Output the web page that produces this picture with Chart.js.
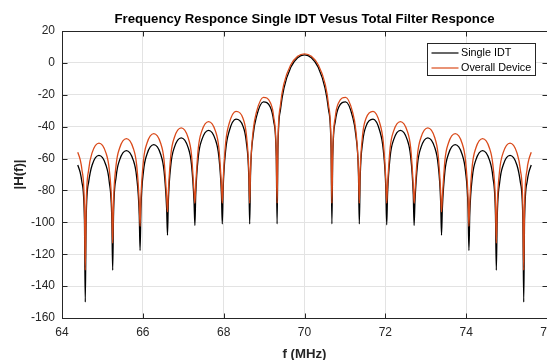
<!DOCTYPE html>
<html>
<head>
<meta charset="utf-8">
<script src="https://cdn.jsdelivr.net/npm/chart.js@4.4.1/dist/chart.umd.min.js"></script>
<style>
html, body { margin: 0; padding: 0; overflow: hidden; background: #ffffff; }
#wrap { position: absolute; left: 0; top: 0; width: 570px; height: 360px; }
</style>
</head>
<body>
<div id="wrap"><canvas id="c" width="570" height="360"></canvas></div>
<script>
// ---- Data ----
const titleText = 'Frequency Responce Single IDT Vesus Total Filter Responce';
const xTitle = 'f (MHz)';
const yTitle = '|H(f)|';
const seriesNames = ['Single IDT', 'Overall Device'];

const xTicks = [64, 66, 68, 70, 72, 74, 76];
const yTicks = [-160, -140, -120, -100, -80, -60, -40, -20, 0, 20];

// frequency (MHz)
const freq = [
  64.39, 64.45, 64.49, 64.555,
  64.576, 64.597, 64.661, 64.746, 64.915, 65.085, 65.169, 65.233,
  65.254, 65.275, 65.339, 65.424, 65.593, 65.763, 65.847, 65.911,
  65.932, 65.953, 66.017, 66.102, 66.271, 66.441, 66.525, 66.589,
  66.610, 66.631, 66.695, 66.780, 66.949, 67.119, 67.203, 67.267,
  67.288, 67.309, 67.373, 67.458, 67.627, 67.797, 67.881, 67.945,
  67.966, 67.987, 68.051, 68.136, 68.305, 68.475, 68.559, 68.623,
  68.644, 68.665, 68.729, 68.814, 68.983, 69.153, 69.237, 69.301,
  69.322, 69.343, 69.407, 69.492, 69.661, 69.830, 70.000, 70.170, 70.339, 70.508, 70.593, 70.657,
  70.678, 70.699, 70.763, 70.848, 71.017, 71.187, 71.271, 71.335,
  71.356, 71.377, 71.441, 71.526, 71.695, 71.865, 71.949, 72.013,
  72.034, 72.055, 72.119, 72.204, 72.373, 72.543, 72.627, 72.691,
  72.712, 72.733, 72.797, 72.882, 73.051, 73.221, 73.305, 73.369,
  73.390, 73.411, 73.475, 73.560, 73.729, 73.899, 73.983, 74.047,
  74.068, 74.089, 74.153, 74.238, 74.407, 74.577, 74.661, 74.725,
  74.746, 74.767, 74.831, 74.916, 75.085, 75.255, 75.339, 75.403,
  75.424, 75.445, 75.509, 75.550, 75.610
];

// Single IDT |H(f)| in dB
const singleIDT = [
  -64, -68.7, -74.4, -98,
  -150, -98, -74.5, -64, -58, -64, -74.5, -98,
  -130, -95, -71.5, -61, -55, -61, -71.5, -95,
  -117.6, -91.3, -67.8, -57.3, -51.3, -57.3, -67.8, -91.3,
  -108, -87, -63.5, -53, -47, -53, -63.5, -87,
  -102, -82.3, -58.8, -48.3, -42.3, -48.3, -58.8, -82.3,
  -101, -78.9, -54.5, -42.9, -35.3, -39.5, -49.3, -72.3,
  -101, -69.5, -45.5, -33.5, -24.5, -27.7, -36.5, -58.5,
  -101, -53, -29, -15.8, -2.8, 3.2, 5, 3.2, -2.8, -15.8, -29, -53,
  -101, -58.5, -36.5, -27.7, -24.5, -33.5, -45.5, -69.5,
  -101, -72.3, -49.3, -39.5, -35.3, -42.9, -54.5, -78.9,
  -101.5, -82.3, -58.8, -48.3, -42.3, -48.3, -58.8, -82.3,
  -102, -87, -63.5, -53, -47, -53, -63.5, -87,
  -108, -91.3, -67.8, -57.3, -51.3, -57.3, -67.8, -91.3,
  -117.6, -95, -71.5, -61, -55, -61, -71.5, -95,
  -130, -98, -74.5, -64, -58, -64, -74.5, -98,
  -150, -98, -74.4, -68.7, -64
];

// Overall device |H(f)| in dB
const overallDevice = [
  -56, -60.7, -66.4, -90,
  -130, -90.3, -66.8, -56.3, -50.3, -56.3, -66.8, -90.3,
  -113, -87.5, -64, -53.5, -47.5, -53.5, -64, -87.5,
  -102.5, -84.4, -60.9, -50.4, -44.4, -50.4, -60.9, -84.4,
  -93.5, -80.8, -57.3, -46.8, -40.8, -46.8, -57.3, -80.8,
  -88, -76.8, -53.3, -42.8, -36.8, -42.8, -53.3, -76.8,
  -88, -74, -49.6, -38, -30.4, -34.6, -44.4, -67.4,
  -88, -66.6, -42.6, -30.6, -21.6, -24.8, -33.6, -55.6,
  -88, -50, -26, -13, -1.2, 4.2, 5.7, 4.2, -1.2, -13, -26, -50,
  -88, -55.6, -33.6, -24.8, -21.6, -30.6, -42.6, -66.6,
  -88, -67.4, -44.4, -34.6, -30.4, -38, -49.6, -74,
  -88, -76.8, -53.3, -42.8, -36.8, -42.8, -53.3, -76.8,
  -88, -80.8, -57.3, -46.8, -40.8, -46.8, -57.3, -80.8,
  -93.5, -84.4, -60.9, -50.4, -44.4, -50.4, -60.9, -84.4,
  -102.5, -87.5, -64, -53.5, -47.5, -53.5, -64, -87.5,
  -113, -90.3, -66.8, -56.3, -50.3, -56.3, -66.8, -90.3,
  -130, -90, -66.4, -60.7, -56
];

// ---- Styling ----
const FONT = "'Liberation Sans', Arial, Helvetica, sans-serif";
const AXIS_COLOR = '#262626';
const GRID_COLOR = '#e3e3e3';
const COLORS = ['#000000', '#DA4A1A'];

function toXY(xs, ys) { return xs.map((x, i) => ({ x: x, y: ys[i] })); }

// Box, inward ticks and in-plot legend (MATLAB look)
const framePlugin = {
  id: 'matlabFrame',
  afterDatasetsDraw(chart) {
    const { ctx, chartArea: a, scales } = chart;
    ctx.save();
    ctx.strokeStyle = AXIS_COLOR;
    ctx.lineWidth = 1;
    const L = Math.round(a.left) + 0.5, R = Math.round(a.right) + 0.5;
    const T = Math.round(a.top) + 0.5, B = Math.round(a.bottom) + 0.5;
    ctx.beginPath();
    ctx.moveTo(L, T); ctx.lineTo(R, T); ctx.lineTo(R, B); ctx.lineTo(L, B); ctx.closePath();
    const tl = 5;
    scales.x.ticks.forEach(t => {
      const px = Math.round(scales.x.getPixelForValue(t.value)) + 0.5;
      ctx.moveTo(px, B); ctx.lineTo(px, B - tl);
      ctx.moveTo(px, T); ctx.lineTo(px, T + tl);
    });
    scales.y.ticks.forEach(t => {
      const py = Math.round(scales.y.getPixelForValue(t.value)) + 0.5;
      ctx.moveTo(L, py); ctx.lineTo(L + tl, py);
      ctx.moveTo(R, py); ctx.lineTo(R - tl, py);
    });
    ctx.stroke();

    // legend
    const ds = chart.data.datasets;
    ctx.font = '10.8px ' + FONT;
    const textW = Math.max(...ds.map(d => ctx.measureText(d.label).width));
    const padL = 4, lineLen = 27, gap = 2.5, padR = 4.5;
    const w = Math.round(padL + lineLen + gap + textW + padR);
    const h = 32;
    const bx = Math.round(a.right - 12 - w) + 0.5;
    const by = Math.round(a.top + 11.5) + 0.5;
    ctx.fillStyle = '#ffffff';
    ctx.fillRect(bx, by, w, h);
    ctx.strokeStyle = AXIS_COLOR;
    ctx.lineWidth = 1;
    ctx.strokeRect(bx, by, w, h);
    ds.forEach((d, i) => {
      const cy = by + 9.5 + i * 15;
      ctx.strokeStyle = d.borderColor;
      ctx.lineWidth = 1.2;
      ctx.beginPath();
      ctx.moveTo(bx + padL, cy); ctx.lineTo(bx + padL + lineLen, cy);
      ctx.stroke();
      ctx.fillStyle = '#000000';
      ctx.textAlign = 'left';
      ctx.textBaseline = 'middle';
      ctx.fillText(d.label, bx + padL + lineLen + gap, cy);
    });
    ctx.restore();
  }
};

const chart = new Chart(document.getElementById('c'), {
  type: 'line',
  data: {
    datasets: [
      {
        label: seriesNames[0],
        data: toXY(freq, singleIDT),
        borderColor: COLORS[0],
        backgroundColor: COLORS[0],
        borderWidth: 1.3,
        pointRadius: 0,
        cubicInterpolationMode: 'monotone',
        order: 1
      },
      {
        label: seriesNames[1],
        data: toXY(freq, overallDevice),
        borderColor: COLORS[1],
        backgroundColor: COLORS[1],
        borderWidth: 1.3,
        pointRadius: 0,
        cubicInterpolationMode: 'monotone',
        order: 0
      }
    ]
  },
  options: {
    responsive: false,
    animation: false,
    devicePixelRatio: 1,
    layout: { padding: { left: 0, right: 23, top: 0, bottom: 0 } },
    plugins: {
      legend: { display: false },
      tooltip: { enabled: false },
      title: {
        display: true,
        fullSize: false,
        text: titleText,
        color: '#000000',
        font: { family: FONT, size: 13.2, weight: 'bold' },
        padding: { top: 11.6, bottom: 3.56 }
      }
    },
    scales: {
      x: {
        type: 'linear',
        min: xTicks[0],
        max: xTicks[xTicks.length - 1],
        afterBuildTicks: (s) => { s.ticks = xTicks.map(v => ({ value: v })); },
        afterFit: (s) => { s.height = 42; },
        ticks: {
          color: AXIS_COLOR,
          font: { family: FONT, size: 12 },
          padding: 7.6,
          maxRotation: 0,
          autoSkip: false
        },
        grid: { color: GRID_COLOR, drawTicks: false, lineWidth: 1 },
        border: { display: true, color: AXIS_COLOR, width: 1 },
        title: {
          display: true,
          text: xTitle,
          color: AXIS_COLOR,
          font: { family: FONT, size: 13.2, weight: 'bold' },
          padding: { top: 0, bottom: -1.9 }
        }
      },
      y: {
        type: 'linear',
        min: yTicks[0],
        max: yTicks[yTicks.length - 1],
        afterBuildTicks: (s) => { s.ticks = yTicks.map(v => ({ value: v })); },
        afterFit: (s) => { s.width = 62; },
        ticks: {
          color: AXIS_COLOR,
          font: { family: FONT, size: 12 },
          padding: 7,
          autoSkip: false
        },
        grid: { color: GRID_COLOR, drawTicks: false, lineWidth: 1 },
        border: { display: true, color: AXIS_COLOR, width: 1 },
        title: {
          display: true,
          text: yTitle,
          color: AXIS_COLOR,
          font: { family: FONT, size: 13.2, weight: 'bold' },
          padding: { top: 11, bottom: 0 }
        }
      }
    }
  },
  plugins: [framePlugin]
});
</script>
</body>
</html>
